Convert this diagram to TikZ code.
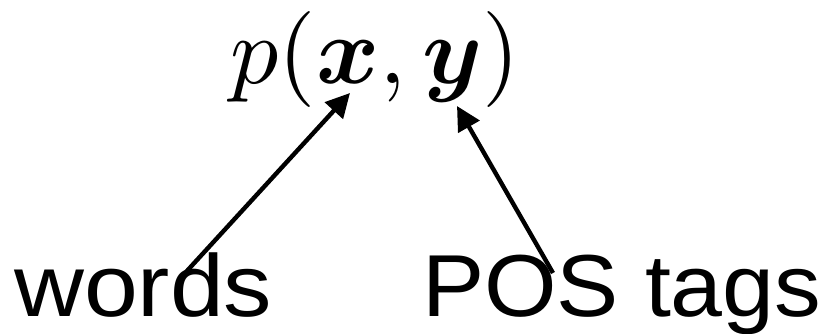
\documentclass[tikz,border=0pt]{standalone}
\usepackage{fontspec}
\usepackage{amsmath,amssymb,bm}
\setsansfont{Liberation Sans}
\usetikzlibrary{arrows.meta}
\begin{document}
\begin{tikzpicture}[x=1pt,y=-1pt,
  lbl/.style={font=\fontsize{88}{100}\selectfont\sffamily, anchor=base west, inner sep=0pt},
  ptr/.style={line width=4.4pt, -{Triangle[length=24pt,width=24pt]}}]
\useasboundingbox (0,0) rectangle (825,333);
\node[anchor=base, inner sep=0pt] (m) at (375,83) {\scalebox{9.6}{$p(\bm{x},\bm{y})$}};
\node[lbl] (w) at (14,316) {\scalebox{1.1}[1]{words}};
\node[lbl] (t) at (422,316) {\scalebox{1.06}[1]{POS tags}};
\coordinate (tx) at (350,93);
\coordinate (ty) at (457,106);
\coordinate (ws) at (186,272);
\coordinate (ts) at (553,273);
\draw[ptr] (ws) -- (tx);
\draw[ptr] (ts) -- (ty);
\end{tikzpicture}
\end{document}
